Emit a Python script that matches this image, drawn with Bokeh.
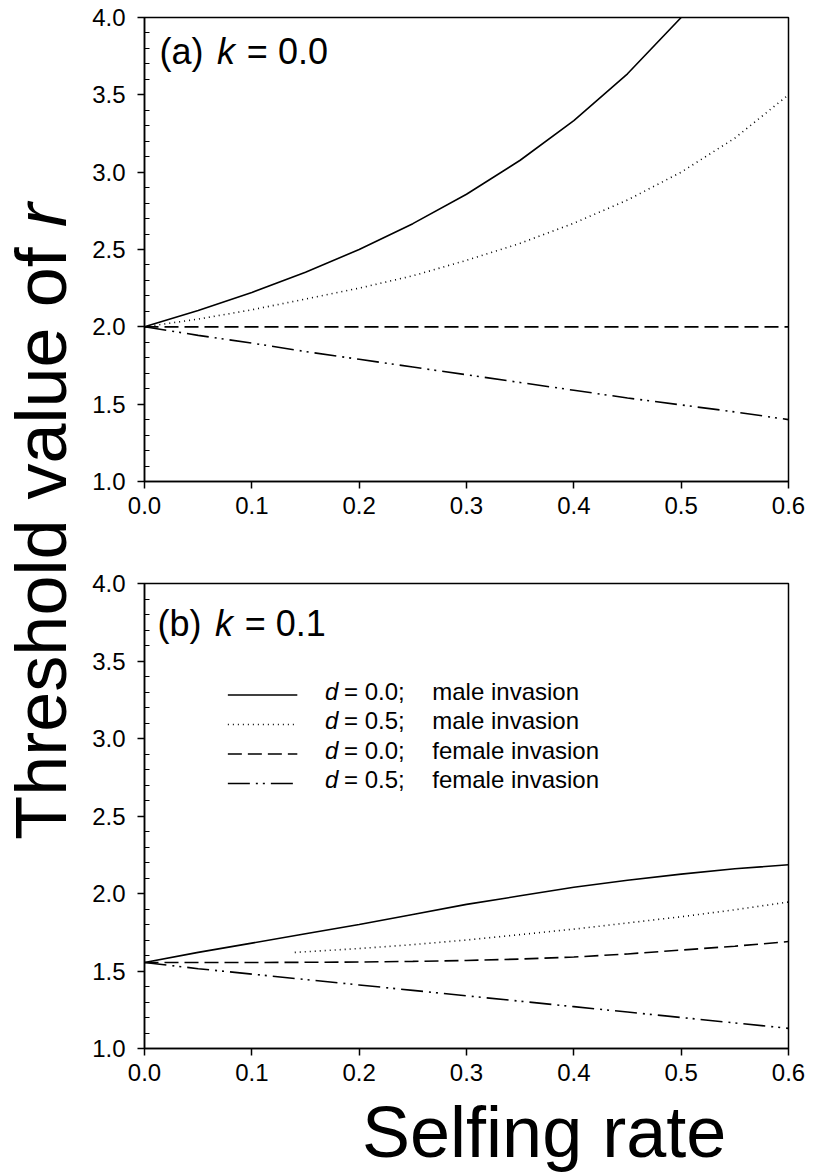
from bokeh.plotting import figure
from bokeh.models import Range1d, FixedTicker, PrintfTickFormatter, Label
from bokeh.layouts import row, column
from bokeh.embed import file_html
from bokeh.resources import INLINE
import math

FONT = "Liberation Sans"

# ---------------- data ----------------
x_ticks = [0.0, 0.1, 0.2, 0.3, 0.4, 0.5, 0.6]
y_ticks = [1.0, 1.5, 2.0, 2.5, 3.0, 3.5, 4.0]
y_minor = [1.1, 1.2, 1.3, 1.4, 1.6, 1.7, 1.8, 1.9, 2.1, 2.2, 2.3, 2.4,
           2.6, 2.7, 2.8, 2.9, 3.1, 3.2, 3.3, 3.4, 3.6, 3.7, 3.8, 3.9]

selfing = [0.0, 0.05, 0.1, 0.15, 0.2, 0.25, 0.3, 0.35, 0.4, 0.45, 0.5, 0.55, 0.6]

# panel (a) k = 0.0
a_sel_male_d0 = [0.0, 0.05, 0.1, 0.15, 0.2, 0.25, 0.3, 0.35, 0.4, 0.45, 0.5]
a_male_d0 = [2.0, 2.105, 2.222, 2.353, 2.5, 2.667, 2.857, 3.077, 3.333, 3.636, 4.0]
a_male_d5 = [2.0, 2.05, 2.11, 2.18, 2.25, 2.33, 2.43, 2.54, 2.67, 2.82, 3.0, 3.22, 3.5]
a_fem_d0 = [2.0, 2.0, 2.0, 2.0, 2.0, 2.0, 2.0, 2.0, 2.0, 2.0, 2.0, 2.0, 2.0]
a_fem_d5 = [2.0, 1.945, 1.895, 1.84, 1.79, 1.74, 1.69, 1.64, 1.59, 1.54, 1.495, 1.45, 1.40]

# panel (b) k = 0.1
b_male_d0 = [1.555, 1.62, 1.68, 1.74, 1.80, 1.865, 1.93, 1.985, 2.04, 2.085, 2.125, 2.16, 2.185]
b_sel_male_d5 = [0.14, 0.2, 0.25, 0.3, 0.35, 0.4, 0.45, 0.5, 0.55, 0.6]
b_male_d5 = [1.62, 1.645, 1.67, 1.70, 1.735, 1.77, 1.81, 1.85, 1.895, 1.945]
b_fem_d0 = [1.555, 1.555, 1.555, 1.556, 1.558, 1.562, 1.568, 1.577, 1.59, 1.61, 1.635, 1.66, 1.69]
b_fem_d5 = [1.555, 1.515, 1.48, 1.445, 1.41, 1.375, 1.34, 1.305, 1.27, 1.235, 1.20, 1.165, 1.13]

legend_d = ["= 0.0;", "= 0.5;", "= 0.0;", "= 0.5;"]
legend_kind = ["male invasion", "male invasion", "female invasion", "female invasion"]

# ---------------- styles ----------------
LW = 1.6
STYLE_SOLID = "solid"
STYLE_DOT = "1 4"
STYLE_DASH = "14 6"
STYLE_DDD = "22 6 2 5 2 6"
TICK_FS = "24px"
BASE_SHIFT = 0.36  # em, correction so the glyph baseline lands where wanted


def make_panel(width, height, left, right, top, bottom):
    p = figure(width=width, height=height, x_range=Range1d(0, 0.6), y_range=Range1d(1.0, 4.0),
               output_backend="svg", toolbar_location=None,
               min_border_left=left, min_border_right=right,
               min_border_top=top, min_border_bottom=bottom,
               background_fill_color="white", border_fill_color="white")
    p.xgrid.visible = False
    p.ygrid.visible = False
    p.outline_line_color = "black"
    p.outline_line_width = 1.5
    p.outline_line_alpha = 1.0
    xa = p.xaxis[0]
    xa.ticker = FixedTicker(ticks=x_ticks, minor_ticks=[])
    xa.formatter = PrintfTickFormatter(format="%.1f")
    ya = p.yaxis[0]
    ya.ticker = FixedTicker(ticks=y_ticks, minor_ticks=y_minor)
    ya.formatter = PrintfTickFormatter(format="%.1f")
    for ax in (xa, ya):
        ax.axis_line_width = 1.5
        ax.axis_line_color = "black"
        ax.major_tick_line_width = 1.5
        ax.major_tick_line_color = "black"
        ax.major_tick_in = 0
        ax.major_tick_out = 7
        ax.major_label_text_font = FONT
        ax.major_label_text_font_size = TICK_FS
        ax.major_label_text_color = "black"
    xa.minor_tick_in = 0
    xa.minor_tick_out = 0
    xa.major_label_standoff = 8
    ya.minor_tick_in = 5
    ya.minor_tick_out = 0
    ya.minor_tick_line_width = 1.2
    ya.minor_tick_line_color = "black"
    ya.major_label_standoff = 12
    return p


YLAB_W = 84
PANEL_W = 814 - YLAB_W
FA_H = 548
FB_BOTTOM = 43
FB_H = (583 - FA_H) + 465 + FB_BOTTOM

# panel (a): frame from x=140..788, y=17..481 (page px)
fa = make_panel(PANEL_W, FA_H, 140 - YLAB_W, PANEL_W - (140 - YLAB_W) - 648, 17, FA_H - 17 - 464)
fa.line(a_sel_male_d0, a_male_d0, line_color="black", line_width=LW)
fa.line(selfing, a_male_d5, line_color="black", line_width=LW, line_dash=STYLE_DOT)
fa.line(selfing, a_fem_d0, line_color="black", line_width=LW, line_dash=STYLE_DASH)
fa.line(selfing, a_fem_d5, line_color="black", line_width=LW, line_dash=STYLE_DDD)


def ax_x(px):
    return (px - 140) / 648 * 0.6


def ax_y(py):
    return 4 - (py - 17) / 464 * 3


PF = 36
for txt, px, st in (("(a)", 155, "normal"), ("k", 213, "italic"), ("= 0.0", 243, "normal")):
    fa.add_layout(Label(x=ax_x(px), y=ax_y(64 - BASE_SHIFT * PF), text=txt, text_font=FONT,
                        text_font_size=f"{PF}px", text_font_style=st, text_color="black",
                        text_baseline="alphabetic"))

# panel (b): frame from x=144..793, y=583..1048 (page px)
fb = make_panel(PANEL_W, FB_H, 144 - YLAB_W, PANEL_W - (144 - YLAB_W) - 649, 583 - FA_H, FB_BOTTOM)
fb.line(selfing, b_male_d0, line_color="black", line_width=LW)
fb.line(b_sel_male_d5, b_male_d5, line_color="black", line_width=LW, line_dash=STYLE_DOT)
fb.line(selfing, b_fem_d0, line_color="black", line_width=LW, line_dash=STYLE_DASH)
fb.line(selfing, b_fem_d5, line_color="black", line_width=LW, line_dash=STYLE_DDD)


def bx(px):
    return (px - 144) / 649 * 0.6


def by(py):
    return 4 - (py - 583) / 465 * 3


for txt, px, st in (("(b)", 157, "normal"), ("k", 215, "italic"), ("= 0.1", 245, "normal")):
    fb.add_layout(Label(x=bx(px), y=by(636 - BASE_SHIFT * PF), text=txt, text_font=FONT,
                        text_font_size=f"{PF}px", text_font_style=st, text_color="black",
                        text_baseline="alphabetic"))

# legend (key samples + texts)
LF = 24
legend_styles = [STYLE_SOLID, STYLE_DOT, STYLE_DASH, STYLE_DDD]
baselines = [699.5, 729.0, 758.5, 788.0]
for i in range(4):
    bl = baselines[i]
    ty = by(bl - BASE_SHIFT * LF)
    fb.line([bx(228), bx(298)], [by(bl - 5), by(bl - 5)], line_color="black", line_width=LW,
            line_dash=legend_styles[i])
    fb.add_layout(Label(x=bx(326), y=ty, text="d", text_font=FONT, text_font_size=f"{LF}px",
                        text_font_style="italic", text_color="black", text_baseline="alphabetic"))
    fb.add_layout(Label(x=bx(345), y=ty, text=legend_d[i], text_font=FONT, text_font_size=f"{LF}px",
                        text_color="black", text_baseline="alphabetic"))
    fb.add_layout(Label(x=bx(434), y=ty, text=legend_kind[i], text_font=FONT, text_font_size=f"{LF}px",
                        text_color="black", text_baseline="alphabetic"))

# x axis title in its own strip below panel (b)
XLAB_H = 1175 - FA_H - FB_H
XF = 72
xlab = figure(width=PANEL_W, height=XLAB_H, x_range=Range1d(0, PANEL_W), y_range=Range1d(0, XLAB_H),
              x_axis_type=None, y_axis_type=None, min_border=0, toolbar_location=None,
              output_backend="svg", outline_line_color=None,
              background_fill_color="white", border_fill_color="white")
xlab.add_layout(Label(x=537 - YLAB_W, y=1175 - (1157 - BASE_SHIFT * XF), text="Selfing rate",
                      text_font=FONT, text_font_size=f"{XF}px", text_color="black",
                      text_align="center", text_baseline="alphabetic"))

# shared y axis title in its own strip on the left
ylab = figure(width=YLAB_W, height=1175, x_range=Range1d(0, YLAB_W), y_range=Range1d(0, 1175),
              x_axis_type=None, y_axis_type=None, min_border=0, toolbar_location=None,
              output_backend="svg", outline_line_color=None,
              background_fill_color="white", border_fill_color="white")
YF = 72
center = 1175 - 521
start = center - 8.837 * YF / 2
ylab.add_layout(Label(x=40, y=start + 8.226 * YF / 2, text="Threshold value of", angle=math.pi / 2,
                      text_font=FONT, text_font_size=f"{YF}px", text_color="black",
                      text_align="center", text_baseline="middle"))
ylab.add_layout(Label(x=40, y=start + 8.504 * YF + 0.333 * YF / 2, text="r", angle=math.pi / 2,
                      text_font=FONT, text_font_size=f"{YF}px", text_font_style="italic",
                      text_color="black", text_align="center", text_baseline="middle"))

layout = row(ylab, column(fa, fb, xlab))
open("out.html", "w").write(file_html(layout, INLINE))
